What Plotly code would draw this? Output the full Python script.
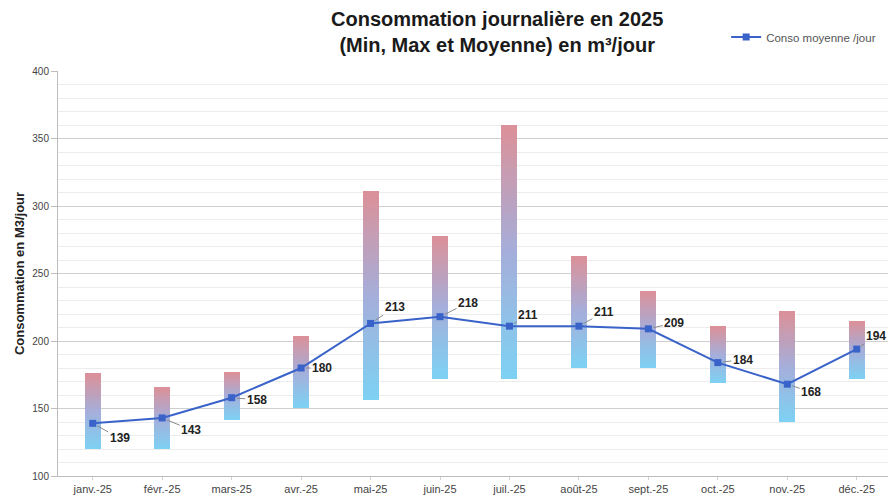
import plotly.graph_objects as go

months = ["janv.-25", "févr.-25", "mars-25", "avr.-25", "mai-25", "juin-25",
          "juil.-25", "août-25", "sept.-25", "oct.-25", "nov.-25", "déc.-25"]
conso_min = [120, 120, 142, 151, 156, 172, 172, 180, 180, 169, 140, 172]
conso_max = [176, 166, 177, 204, 311, 278, 360, 263, 237, 211, 222, 215]
conso_moy = [139, 143, 158, 180, 213, 218, 211, 211, 209, 184, 168, 194]
# label offsets (px) for the mean value labels
lab_dx = [27, 29, 25, 21, 24, 28, 19, 25, 26, 25, 24, 19]
lab_dy = [15, 12, 2, 0, -16, -14, -11, -14, -6, -3, 8, -13]

FONT = "Liberation Sans, Arial, sans-serif"

def lerp(c1, c2, t):
    return tuple(round(a + (b - a) * t) for a, b in zip(c1, c2))

stops = [(0.0, (125, 210, 244)), (0.5, (165, 174, 218)), (1.0, (220, 144, 152))]

def grad(t):
    for (t0, c0), (t1, c1) in zip(stops[:-1], stops[1:]):
        if t <= t1:
            c = lerp(c0, c1, (t - t0) / (t1 - t0))
            return "rgb(%d,%d,%d)" % c
    return "rgb(%d,%d,%d)" % stops[-1][1]

fig = go.Figure()
N = 40
xi = list(range(len(months)))
for k in range(N):
    heights = [(mx - mn) / N for mn, mx in zip(conso_min, conso_max)]
    bases = [mn + k * h for mn, h in zip(conso_min, heights)]
    fig.add_trace(go.Bar(
        x=xi, y=heights, base=bases, width=0.23,
        marker=dict(color=grad((k + 0.5) / N), line=dict(width=0)),
        showlegend=False, hoverinfo="skip"))

fig.add_trace(go.Scatter(
    x=xi, y=conso_moy, mode="lines+markers", name="Conso moyenne /jour",
    line=dict(color="#3a63c9", width=2),
    marker=dict(symbol="square", size=7, color="#3a63c9")))

for i, v in enumerate(conso_moy):
    fig.add_annotation(x=i, y=v, text="<b>%d</b>" % v, showarrow=True,
                       arrowhead=0, arrowwidth=1, arrowcolor="#8a8a8a",
                       ax=lab_dx[i], ay=lab_dy[i], standoff=5,
                       font=dict(family=FONT, size=12, color="#222"))

# title as a paper annotation (centred above the plot)
fig.add_annotation(
    xref="paper", yref="paper", x=(497 - 58) / 830, y=1 + (71 - 32) / 405,
    xanchor="center", yanchor="middle", showarrow=False,
    text="<b>Consommation journalière en 2025<br>(Min, Max et Moyenne) en m³/jour</b>",
    font=dict(family=FONT, size=20, color="#1a1a1a"))

fig.update_layout(
    width=888, height=498,
    margin=dict(l=58, r=0, t=71, b=22),
    paper_bgcolor="white", plot_bgcolor="white",
    barmode="overlay", bargap=0,
    legend=dict(x=0.805, y=1 + (71 - 37) / 405, xanchor="left", yanchor="middle",
                font=dict(family=FONT, size=11.5, color="#555"),
                bgcolor="rgba(0,0,0,0)", itemwidth=30),
    font=dict(family=FONT),
)
fig.update_xaxes(
    tickmode="array", tickvals=xi, ticktext=months, range=[-0.5, 11.45],
    showgrid=False, showline=True, linecolor="#bdbdbd", linewidth=1,
    ticks="outside", ticklen=3, tickcolor="#d0d0d0", automargin=False,
    tickfont=dict(family=FONT, size=11, color="#444"))
fig.update_yaxes(
    range=[100, 400], dtick=50, showgrid=True, gridcolor="#cfcfcf", gridwidth=1,
    minor=dict(dtick=10, showgrid=True, gridcolor="#ececec", gridwidth=1),
    showline=True, linecolor="#bdbdbd", linewidth=1, zeroline=False,
    ticks="outside", ticklen=6, tickcolor="#bdbdbd", automargin=False,
    tickfont=dict(family=FONT, size=10, color="#444"),
    title=dict(text="<b>Consommation en M3/jour</b>", standoff=4,
               font=dict(family=FONT, size=13, color="#222")))

fig.write_html("out.html", config={"displayModeBar": False},
               post_script="document.body.style.margin='0px';document.body.style.overflow='hidden';")
